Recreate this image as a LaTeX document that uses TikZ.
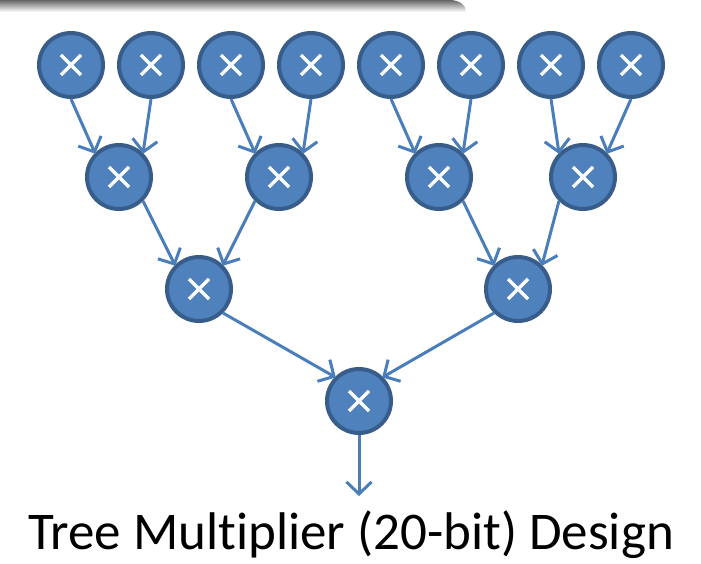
\documentclass[tikz,border=0pt]{standalone}
\usepackage{fontspec}
\setmainfont{Carlito}[Ligatures=NoCommon]
\usetikzlibrary{arrows.meta}
\definecolor{mfill}{HTML}{4F81BD}
\definecolor{mline}{HTML}{385D8A}
\definecolor{aline}{HTML}{4A7EBB}
\begin{document}
\begin{tikzpicture}[x=1pt,y=-1pt,
  mul/.style={circle,fill=mfill,draw=mline,line width=4pt,minimum size=64pt,inner sep=0pt,
    path picture={\draw[white,line width=3.2pt] ([shift={(-10pt,-10pt)}]path picture bounding box.center) -- ([shift={(10pt,10pt)}]path picture bounding box.center)
      ([shift={(-10pt,10pt)}]path picture bounding box.center) -- ([shift={(10pt,-10pt)}]path picture bounding box.center);}},
  conn/.style={draw=aline,line width=3pt,shorten >=-1pt,-{Straight Barb[length=12pt,width=25pt,line width=3pt]}}]
\useasboundingbox (0,0) rectangle (701,564);
% top shadow bar
\shade[top color=black!60,bottom color=white] (0,0) -- (450,0) to[out=0,in=90] (466,12) -- (0,12) -- cycle;
% nodes
\node[mul] (a1) at (71,65) {};
\node[mul] (a2) at (151,65) {};
\node[mul] (a3) at (231,65) {};
\node[mul] (a4) at (311,65) {};
\node[mul] (a5) at (391,65) {};
\node[mul] (a6) at (471,65) {};
\node[mul] (a7) at (551,65) {};
\node[mul] (a8) at (631,65) {};
\node[mul] (b1) at (119,177) {};
\node[mul] (b2) at (279,177) {};
\node[mul] (b3) at (439,177) {};
\node[mul] (b4) at (583,177) {};
\node[mul] (c1) at (199,289) {};
\node[mul] (c2) at (518,289) {};
\node[mul] (d1) at (359,401) {};
\coordinate (out) at (359,495);
% connectors
\draw[conn] (a1.south) -- (b1.north west);
\draw[conn] (a2.south) -- (b1.north east);
\draw[conn] (a3.south) -- (b2.north west);
\draw[conn] (a4.south) -- (b2.north east);
\draw[conn] (a5.south) -- (b3.north west);
\draw[conn] (a6.south) -- (b3.north east);
\draw[conn] (a7.south) -- (b4.north west);
\draw[conn] (a8.south) -- (b4.north east);
\draw[conn] (b1.south east) -- (c1.north west);
\draw[conn] (b2.south west) -- (c1.north east);
\draw[conn] (b3.south east) -- (c2.north west);
\draw[conn] (b4.south west) -- (c2.north east);
\draw[conn] (c1.south east) -- (d1.north west);
\draw[conn] (c2.south west) -- (d1.north east);
\draw[conn] (d1.south) -- (out);
% caption
\node[anchor=base west,font=\fontsize{53}{60}\selectfont,inner sep=0pt] (cap) at (28,549) {Tree Multiplier (20-bit) Design};
\end{tikzpicture}
\end{document}
